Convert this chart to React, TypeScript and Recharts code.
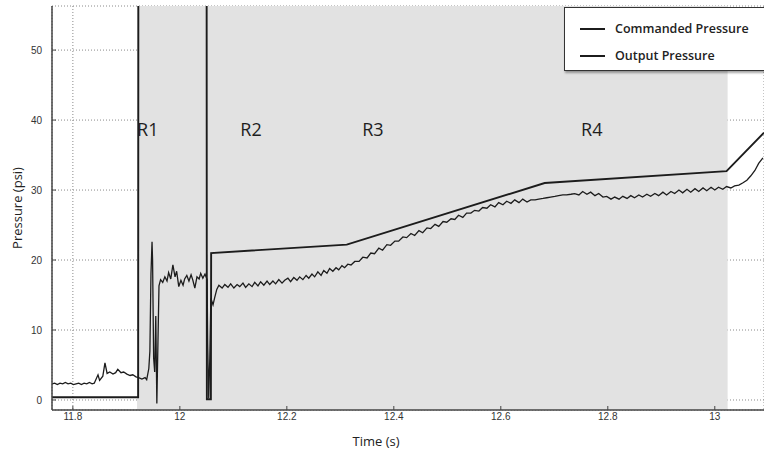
import React from 'react';
import {
  LineChart, Line, XAxis, YAxis, CartesianGrid, ReferenceArea, ReferenceDot,
} from 'recharts';

// Commanded pressure (time s, psi)
const CMD_T = [11.761, 11.922, 11.9225, 12.050, 12.0505, 12.058, 12.0585, 12.312, 12.682, 13.022, 13.092];
const CMD_P = [0.4, 0.4, 70, 70, 0.1, 0.1, 21, 22.2, 31.0, 32.7, 38.2];

// Output pressure (time s, psi)
const OUT_T = [
  11.761, 11.766, 11.771, 11.776, 11.781, 11.786, 11.791, 11.796, 11.801, 11.806, 11.811, 11.816, 11.821, 11.826, 11.831, 11.836, 11.840,
  11.847, 11.850, 11.856, 11.860, 11.864, 11.869, 11.875, 11.880, 11.884, 11.890, 11.895, 11.901, 11.907, 11.912, 11.918, 11.923, 11.929,
  11.935, 11.938, 11.942, 11.944, 11.946, 11.948, 11.949, 11.951, 11.953, 11.955, 11.957, 11.959, 11.961,
  11.964, 11.968, 11.972, 11.976, 11.979, 11.983, 11.987, 11.991, 11.994, 11.998, 12.002, 12.006, 12.009, 12.013, 12.017, 12.021, 12.024,
  12.028, 12.032, 12.036, 12.039, 12.043, 12.047, 12.051, 12.052, 12.054, 12.056, 12.058, 12.062, 12.065, 12.069, 12.073,
  12.079, 12.084, 12.090, 12.095, 12.101, 12.107, 12.112, 12.118, 12.123, 12.129, 12.135, 12.140, 12.146, 12.151, 12.157, 12.163,
  12.168, 12.174, 12.179, 12.185, 12.191, 12.196, 12.202, 12.207, 12.213, 12.219, 12.224, 12.230, 12.236, 12.241, 12.247, 12.252,
  12.258, 12.264, 12.269, 12.275, 12.280, 12.286, 12.292, 12.297, 12.303, 12.308, 12.314, 12.320, 12.327, 12.335, 12.342, 12.350,
  12.357, 12.364, 12.372, 12.379, 12.387, 12.394, 12.402, 12.409, 12.417, 12.424, 12.432, 12.439, 12.447, 12.454, 12.462, 12.469,
  12.477, 12.484, 12.492, 12.499, 12.507, 12.514, 12.521, 12.529, 12.536, 12.544, 12.551, 12.559, 12.566, 12.574, 12.581, 12.589,
  12.596, 12.604, 12.611, 12.619, 12.626, 12.634, 12.641, 12.649, 12.656, 12.664, 12.671, 12.679, 12.686, 12.693, 12.701, 12.708,
  12.716, 12.723, 12.731, 12.738, 12.746, 12.753, 12.761, 12.768, 12.776, 12.783, 12.791, 12.798, 12.806, 12.813, 12.821, 12.828,
  12.836, 12.843, 12.850, 12.858, 12.865, 12.873, 12.880, 12.888, 12.895, 12.903, 12.910, 12.918, 12.925, 12.933, 12.940, 12.948,
  12.955, 12.963, 12.970, 12.978, 12.985, 12.993, 13.000, 13.007, 13.015, 13.022, 13.030, 13.037, 13.045, 13.052, 13.060, 13.067,
  13.075, 13.082, 13.090,
];
const OUT_P = [
  2.3, 2.4, 2.2, 2.4, 2.3, 2.5, 2.3, 2.4, 2.2, 2.3, 2.4, 2.2, 2.4, 2.3, 2.5, 2.3, 2.4,
  3.6, 2.8, 3.4, 5.3, 3.8, 4.0, 3.7, 3.9, 4.4, 3.9, 4.0, 3.7, 3.5, 3.6, 3.3, 3.2, 3.0,
  3.2, 2.9, 4.5, 7.0, 18.0, 22.6, 20.0, 6.0, 4.0, 12.0, -0.5, 8.0, 16.3,
  17.2, 16.8, 17.6, 17.0, 18.2, 17.3, 19.3, 17.6, 18.4, 16.2, 17.1, 16.4, 17.3, 17.8, 17.0, 17.9, 17.2,
  16.0, 17.6, 17.3, 18.1, 17.4, 18.0, 17.2, 8.0, 0.2, 6.0, 14.5, 13.6, 14.6, 15.8, 16.4,
  16.0, 16.5, 16.1, 16.6, 16.0, 16.5, 16.2, 16.7, 16.1, 16.6, 16.2, 16.8, 16.3, 16.9, 16.4, 17.0,
  16.5, 17.0, 16.6, 17.2, 16.7, 17.1, 17.4, 16.9, 17.5, 17.1, 17.6, 17.2, 17.8, 17.4, 18.0, 17.6,
  18.3, 17.8, 18.5, 18.1, 18.8, 18.4, 18.9, 18.6, 19.2, 18.9, 19.4, 19.3, 19.8, 19.8, 20.4, 20.3,
  21.0, 20.9, 21.7, 21.4, 22.2, 22.1, 22.7, 22.7, 23.3, 23.2, 23.8, 23.5, 24.2, 23.9, 24.6, 24.5,
  25.1, 24.8, 25.5, 25.4, 25.9, 25.8, 26.4, 26.1, 26.7, 26.7, 27.1, 27.0, 27.5, 27.4, 27.9, 27.6,
  28.2, 27.9, 28.4, 28.1, 28.6, 28.2, 28.7, 28.3, 28.6, 28.6, 28.7, 28.8, 28.9, 29.0, 29.1, 29.2,
  29.3, 29.3, 29.4, 29.5, 29.3, 29.8, 29.4, 29.7, 29.2, 29.5, 29.0, 29.1, 28.7, 29.0, 28.7, 29.1,
  28.8, 29.2, 28.9, 29.3, 29.0, 29.4, 29.1, 29.5, 29.2, 29.7, 29.3, 29.8, 29.5, 30.0, 29.6, 30.1,
  29.7, 30.2, 29.8, 30.3, 29.9, 30.4, 30.0, 30.4, 30.1, 30.5, 30.3, 30.6, 30.7, 31.0, 31.4, 32.0,
  32.8, 33.8, 34.6,
];

const X_TICKS = [11.8, 12, 12.2, 12.4, 12.6, 12.8, 13];
const Y_TICKS = [0, 10, 20, 30, 40, 50];
const X_DOMAIN = [11.761, 13.092];
const Y_DOMAIN = [-1.43, 56.3];
const SHADE = [11.92, 13.024];

const REGION_LABELS = ['R1', 'R2', 'R3', 'R4'];
const REGION_T = [11.94, 12.133, 12.361, 12.77];
const REGION_P = [38.6, 38.6, 38.6, 38.6];

const SERIES_NAMES = ['Commanded Pressure', 'Output Pressure'];

const cmdData = CMD_T.map((t, i) => ({ t, p: CMD_P[i] }));
const outData = OUT_T.map((t, i) => ({ t, p: OUT_P[i] }));

const FONT = '"Open Sans", "Liberation Sans", sans-serif';
const INK = '#1c1c1c';

const LegendBox = () => (
  <div
    style={{
      position: 'absolute',
      left: 564,
      top: 7,
      width: 210,
      height: 64,
      background: '#fff',
      border: '1.5px solid #333',
      boxShadow: '1px 2px 2px rgba(0,0,0,0.35)',
      fontFamily: FONT,
      fontSize: 12.5,
      fontWeight: 600,
      color: '#222',
      boxSizing: 'border-box',
      paddingTop: 7,
    }}
  >
    {SERIES_NAMES.map((n) => (
      <div key={n} style={{ display: 'flex', alignItems: 'center', height: 27 }}>
        <div style={{ width: 25, height: 2, background: INK, marginLeft: 15, marginRight: 10 }} />
        <span>{n}</span>
      </div>
    ))}
  </div>
);

export default function App() {
  return (
    <div style={{ position: 'absolute', left: 0, top: 0, width: 764, height: 451, overflow: 'hidden', background: '#fff' }}>
      <LineChart width={764} height={451} margin={{ top: 6, right: 0, bottom: 0, left: 0 }}>
        <ReferenceArea x1={SHADE[0]} x2={SHADE[1]} y1={Y_DOMAIN[0]} y2={Y_DOMAIN[1]} fill="#e2e2e2" fillOpacity={1} stroke="none" ifOverflow="hidden" />
        <CartesianGrid stroke="#8a8a8a" strokeDasharray="1 2" strokeWidth={1} />
        <XAxis
          dataKey="t"
          type="number"
          domain={X_DOMAIN}
          ticks={X_TICKS}
          allowDataOverflow
          height={41}
          tickSize={-4}
          tickMargin={7}
          tickLine={{ stroke: '#444' }}
          axisLine={{ stroke: '#444', strokeWidth: 1.5 }}
          tick={{ fontSize: 10, fill: '#333', fontFamily: '"Liberation Sans", sans-serif' }}
          tickFormatter={(v: number) => String(v)}
          label={{ value: 'Time (s)', position: 'insideBottom', offset: 5, dx: -32, style: { fontSize: 13, fill: '#222', fontFamily: FONT } }}
        />
        <XAxis
          xAxisId="top"
          orientation="top"
          dataKey="t"
          type="number"
          domain={X_DOMAIN}
          ticks={X_TICKS}
          allowDataOverflow
          height={0}
          tick={false}
          tickSize={-4}
          tickLine={{ stroke: '#444' }}
          axisLine={{ stroke: '#444', strokeWidth: 1.5 }}
        />
        <YAxis
          type="number"
          domain={Y_DOMAIN}
          ticks={Y_TICKS}
          allowDataOverflow
          width={52}
          tickSize={-4}
          tickMargin={14}
          tickLine={{ stroke: '#444' }}
          axisLine={{ stroke: '#444', strokeWidth: 1.5 }}
          tick={{ fontSize: 10, fill: '#333', fontFamily: '"Liberation Sans", sans-serif' }}
          label={{ value: 'Pressure (psi)', angle: -90, position: 'center', dx: -9, style: { fontSize: 13, fill: '#222', fontFamily: FONT } }}
        />
        <Line data={cmdData} dataKey="p" name={SERIES_NAMES[0]} stroke={INK} strokeWidth={1.9} dot={false} isAnimationActive={false} type="linear" />
        <Line data={outData} dataKey="p" name={SERIES_NAMES[1]} stroke={INK} strokeWidth={1.3} dot={false} isAnimationActive={false} type="linear" />
        {REGION_LABELS.map((l, i) => (
          <ReferenceDot
            key={l}
            x={REGION_T[i]}
            y={REGION_P[i]}
            r={0}
            fill="none"
            stroke="none"
            label={{ value: l, position: 'center', style: { fontSize: 18, fill: '#1e1e1e', fontFamily: FONT } }}
          />
        ))}
      </LineChart>
      <LegendBox />
    </div>
  );
}
